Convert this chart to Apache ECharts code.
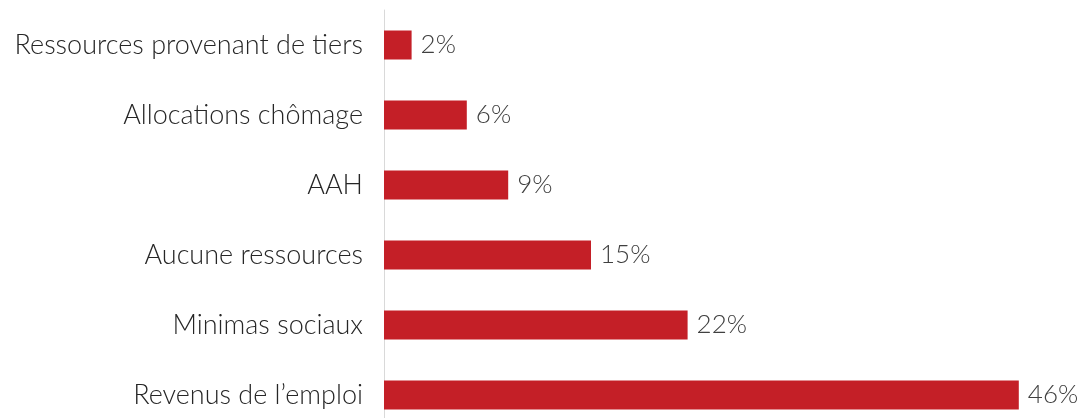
<!DOCTYPE html>
<html><head><meta charset="utf-8">
<script src="https://cdn.jsdelivr.net/npm/echarts@6/dist/echarts.min.js"></script>
<style>html,body{margin:0;padding:0;background:#fff}#c{width:1082px;height:418px}</style>
</head><body><div id="c"></div>
<script>
const categories = ["Ressources provenant de tiers","Allocations chômage","AAH","Aucune ressources","Minimas sociaux","Revenus de l\u2019emploi"];
const values = [2, 6, 9, 15, 22, 46];
const chart = echarts.init(document.getElementById('c'));
const FONT = 'Lato';
chart.setOption({
  animation: false,
  grid: {left: 384, top: 10, width: 690, height: 420, containLabel: false, outerBoundsMode: 'none'},
  xAxis: {type: 'value', min: 0, max: 50, show: false},
  yAxis: {type: 'category', data: categories, inverse: true,
    axisLine: {show: true, lineStyle: {color: '#d9d9d9', width: 1}},
    axisTick: {show: false},
    axisLabel: {margin: 21, color: '#262626', fontFamily: FONT, fontSize: 27, fontWeight: 300}},
  series: [{type: 'bar', data: values, barWidth: 29,
    itemStyle: {color: '#c41f27'},
    label: {show: true, position: 'right', distance: 9, formatter: '{c}%', color: '#404040', fontFamily: FONT, fontSize: 26, fontWeight: 300}}]
});
</script></body></html>
